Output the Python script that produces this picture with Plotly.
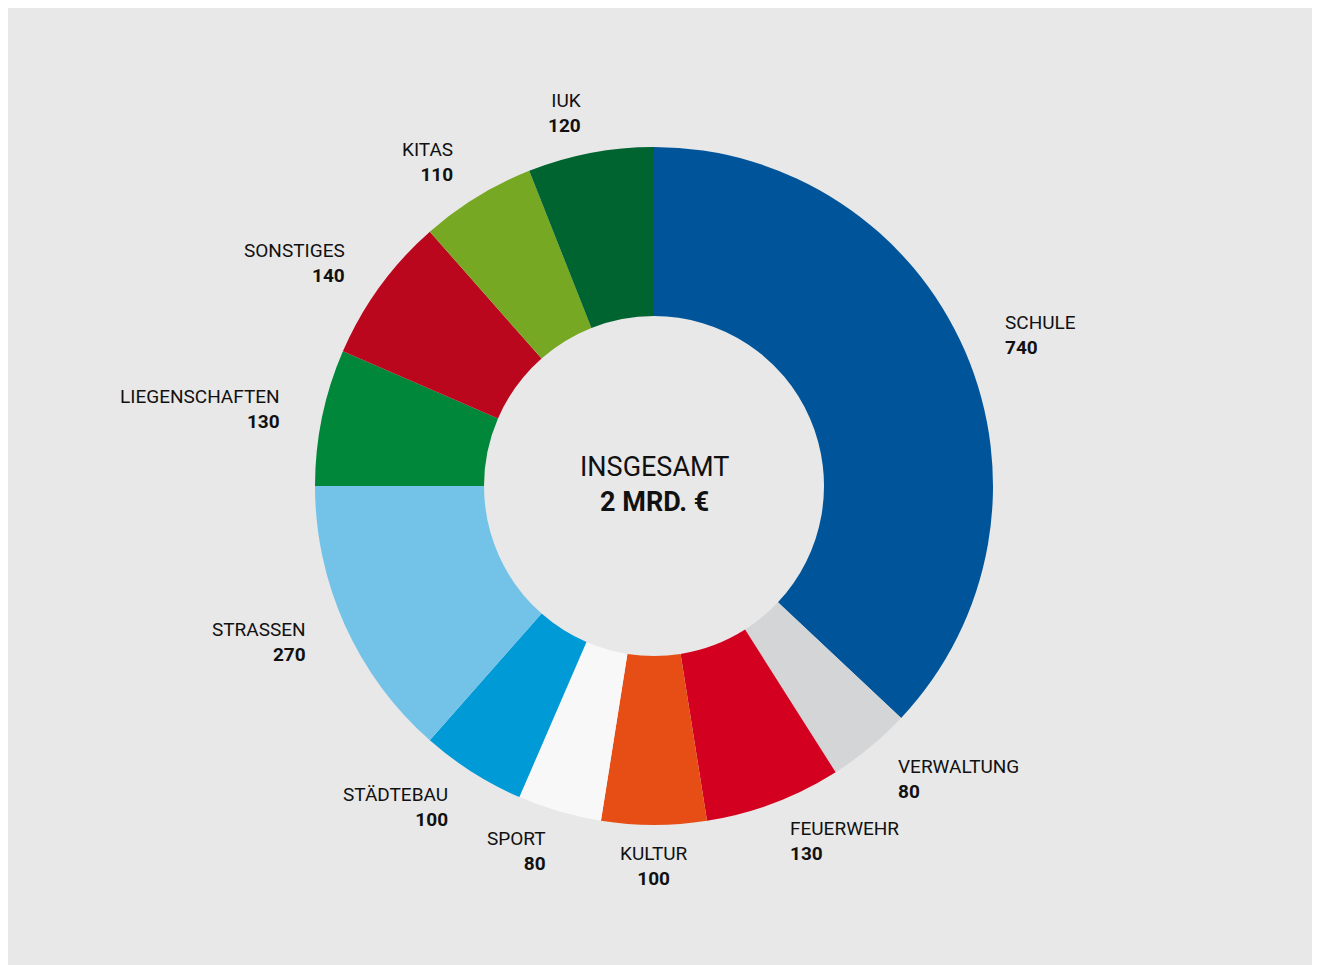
import math
import plotly.graph_objects as go

categories = ["SCHULE", "VERWALTUNG", "FEUERWEHR", "KULTUR", "SPORT", "STÄDTEBAU",
              "STRASSEN", "LIEGENSCHAFTEN", "SONSTIGES", "KITAS", "IUK"]
values = [740, 80, 130, 100, 80, 100, 270, 130, 140, 110, 120]
colors = ["#00559a", "#d4d5d7", "#d4001f", "#e64e16", "#f8f8f8", "#009ad6",
          "#73c3e9", "#00873a", "#ba071d", "#76a823", "#006431"]
center_title = "INSGESAMT"
center_value = "2 MRD. €"

# page body adds an 8px margin, so figure coords are offset by 8px
W, H = 1305, 957
cx, cy = 646, 478          # donut centre in figure pixels
r_out, r_in = 339, 170
r_label = 380
FONT = "Roboto, 'Open Sans', sans-serif"

fig = go.Figure(go.Pie(
    labels=categories,
    values=values,
    marker=dict(colors=colors, line=dict(width=0)),
    sort=False,
    direction="clockwise",
    rotation=0,
    hole=r_in / r_out,
    textinfo="none",
    hoverinfo="label+value",
    showlegend=False,
    domain=dict(x=[(cx - r_out) / W, (cx + r_out) / W],
                y=[1 - (cy + r_out) / H, 1 - (cy - r_out) / H]),
))

annotations = []
total = sum(values)
cum = 0
for cat, v in zip(categories, values):
    mid = (cum + v / 2) / total * 2 * math.pi
    cum += v
    s, c = math.sin(mid), math.cos(mid)
    px = cx + r_label * s
    py = cy - r_label * c
    if abs(s) < 0.1:
        xa, al = "center", "center"
    elif s > 0:
        xa, al = "left", "left"
    else:
        xa, al = "right", "right"
    annotations.append(dict(
        x=px / W, y=1 - py / H, xref="paper", yref="paper",
        text=f"{cat}<br><b>{v}</b>", showarrow=False,
        xanchor=xa, yanchor="middle", align=al,
        font=dict(family=FONT, size=19, color="#111111"),
    ))

annotations.append(dict(
    x=cx / W, y=1 - 476 / H, xref="paper", yref="paper",
    text=f"{center_title}<br><b>{center_value}</b>", showarrow=False,
    xanchor="center", yanchor="middle", align="center",
    font=dict(family=FONT, size=27, color="#111111"),
))

fig.update_layout(
    width=W, height=H,
    margin=dict(l=0, r=0, t=0, b=0),
    paper_bgcolor="#e8e8e8",
    plot_bgcolor="#e8e8e8",
    annotations=annotations,
)

fig.write_html("out.html")
